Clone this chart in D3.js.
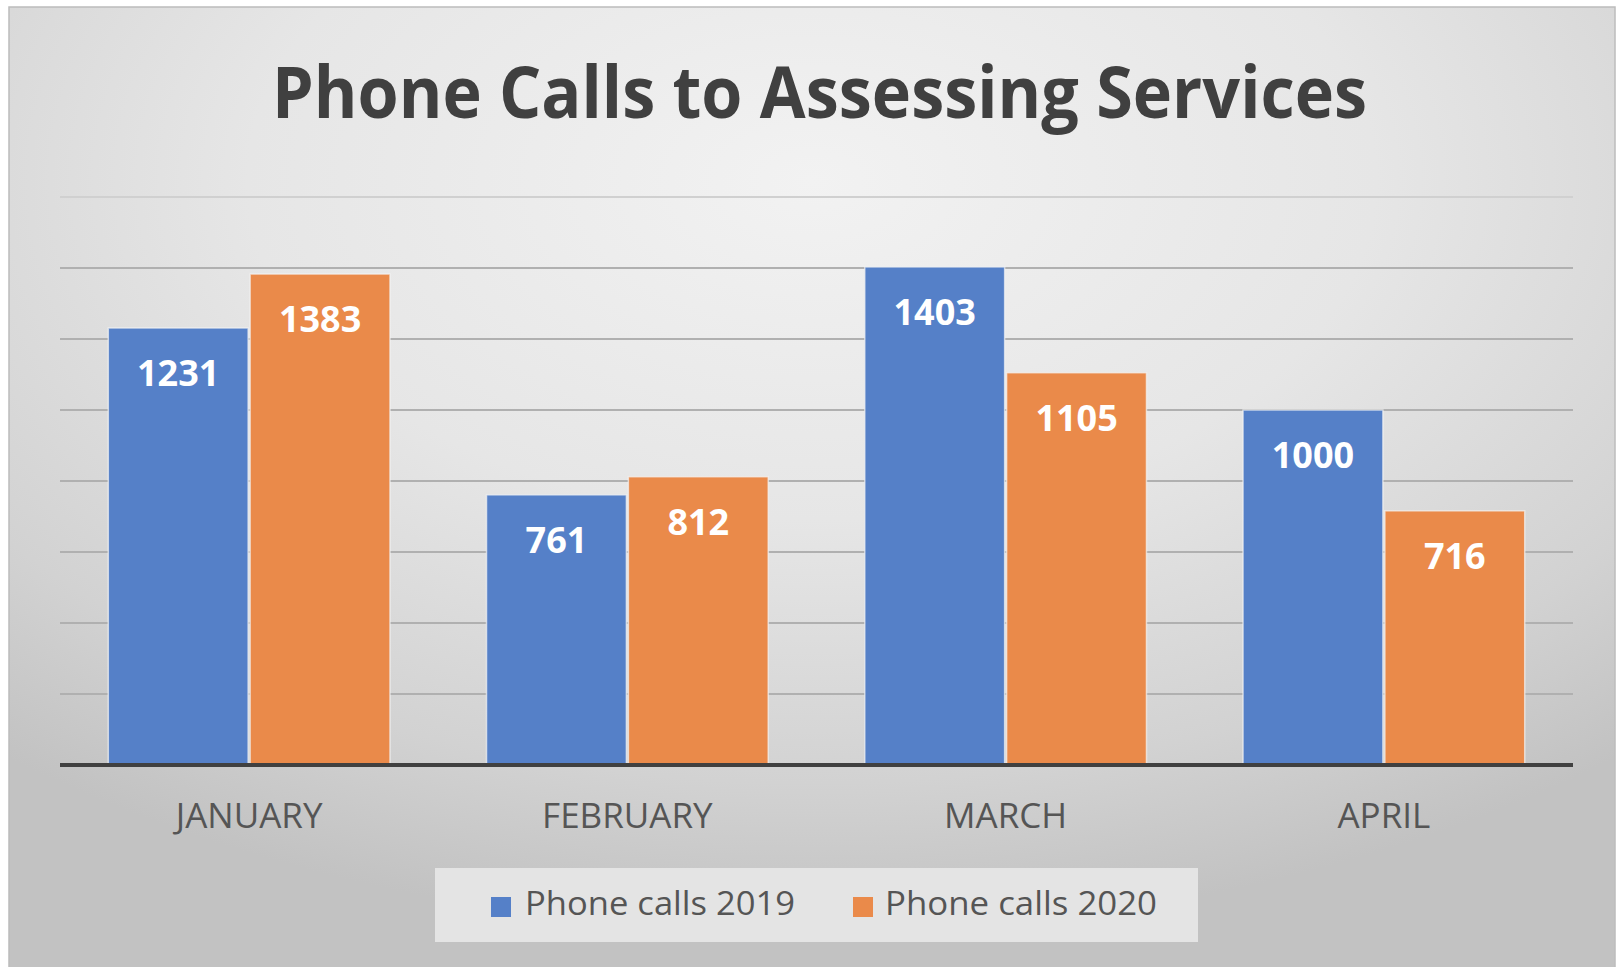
<!DOCTYPE html>
<html>
<head>
<meta charset="utf-8">
<script src="https://cdn.jsdelivr.net/npm/d3@7"></script>
<style>
  html, body { margin: 0; padding: 0; background: #ffffff; }
  svg { display: block; }
</style>
</head>
<body>
<svg id="chart" width="1623" height="967"></svg>
<script>
// Monthly phone calls, two years side by side
const months = ["JANUARY", "FEBRUARY", "MARCH", "APRIL"];
const seriesNames = ["Phone calls 2019", "Phone calls 2020"];
const calls2019 = [1231, 761, 1403, 1000];
const calls2020 = [1383, 812, 1105, 716];
const gridTicks = [0, 200, 400, 600, 800, 1000, 1200, 1400, 1600];
const titleText = "Phone Calls to Assessing Services";

const colors = ["#5580C8", "#EA8A4A"];
const seriesValues = [calls2019, calls2020];

const svg = d3.select("#chart");
const W = 1623, H = 967;

// Panel background with a soft radial shading
const defs = svg.append("defs");
const grad = defs.append("radialGradient")
  .attr("id", "panelShade")
  .attr("cx", 0.5).attr("cy", 0.18).attr("r", 0.78);
grad.append("stop").attr("offset", 0).attr("stop-color", "#f2f2f2");
grad.append("stop").attr("offset", 0.45).attr("stop-color", "#e6e6e6");
grad.append("stop").attr("offset", 0.8).attr("stop-color", "#d2d2d2");
grad.append("stop").attr("offset", 1).attr("stop-color", "#c2c2c2");

svg.append("rect")
  .attr("x", 9).attr("y", 7)
  .attr("width", 1606).attr("height", 965)
  .attr("fill", "url(#panelShade)")
  .attr("stroke", "#bcbcbc").attr("stroke-width", 1.5);

// Scales
const plotLeft = 60, plotRight = 1573, plotTop = 197, plotBottom = 765;
const x0 = d3.scaleBand().domain(months).range([plotLeft, plotRight])
  .paddingInner(0.25).paddingOuter(0.125);
const x1 = d3.scaleBand().domain(d3.range(seriesNames.length)).range([0, x0.bandwidth()]).padding(0);
const y = d3.scaleLinear().domain([0, 1600]).range([plotBottom, plotTop]);

// Horizontal gridlines
svg.append("g").selectAll("line")
  .data(gridTicks.filter(t => t > 0))
  .join("line")
  .attr("x1", plotLeft).attr("x2", plotRight)
  .attr("y1", d => y(d)).attr("y2", d => y(d))
  .attr("stroke", d => d === 1600 ? "#d0d0d0" : "#b0b0b0")
  .attr("stroke-width", 2);

// Title
const title = svg.append("text")
  .attr("x", 819.5).attr("y", 118)
  .attr("text-anchor", "middle")
  .attr("font-family", "'Open Sans', sans-serif")
  .attr("font-weight", 700)
  .attr("font-size", 71)
  .attr("fill", "#404040")
  .attr("textLength", 1095)
  .attr("lengthAdjust", "spacingAndGlyphs")
  .text(titleText);

// Bars
const groups = svg.append("g").selectAll("g")
  .data(months)
  .join("g")
  .attr("transform", d => `translate(${x0(d)},0)`);

groups.selectAll("rect")
  .data((m, i) => seriesValues.map((vals, s) => ({ s, v: vals[i] })))
  .join("rect")
  .attr("x", d => x1(d.s) + 1)
  .attr("width", x1.bandwidth() - 2)
  .attr("y", d => y(d.v))
  .attr("height", d => y(0) - y(d.v))
  .attr("fill", d => colors[d.s])
  .attr("stroke", "#f4f4f4")
  .attr("stroke-opacity", 0.7)
  .attr("stroke-width", 1.5);

// Value labels inside the top of each bar
groups.selectAll("text.val")
  .data((m, i) => seriesValues.map((vals, s) => ({ s, v: vals[i] })))
  .join("text")
  .attr("class", "val")
  .attr("x", d => x1(d.s) + x1.bandwidth() / 2)
  .attr("y", d => y(d.v) + 58)
  .attr("text-anchor", "middle")
  .attr("font-family", "'Open Sans', sans-serif")
  .attr("font-weight", 700)
  .attr("font-size", 36)
  .attr("fill", "#ffffff")
  .text(d => d.v);

// Category axis
const xAxis = svg.append("g")
  .attr("transform", `translate(0,${plotBottom})`)
  .call(d3.axisBottom(x0).tickSize(0).tickPadding(0));
xAxis.select(".domain").remove();
xAxis.selectAll("text")
  .attr("dy", null)
  .attr("y", 63)
  .attr("font-family", "'Open Sans', sans-serif")
  .attr("font-size", 35)
  .attr("fill", "#555555");

svg.append("line")
  .attr("x1", plotLeft).attr("x2", plotRight)
  .attr("y1", y(0)).attr("y2", y(0))
  .attr("stroke", "#404040").attr("stroke-width", 4);

// Legend
const legend = svg.append("g");
legend.append("rect")
  .attr("x", 435).attr("y", 868)
  .attr("width", 763).attr("height", 74)
  .attr("fill", "#e4e4e4");

const legendItems = [
  { name: seriesNames[0], color: colors[0], sx: 491, tx: 525, w: 270 },
  { name: seriesNames[1], color: colors[1], sx: 853, tx: 885, w: 272 }
];
const li = legend.selectAll("g.item").data(legendItems).join("g").attr("class", "item");
li.append("rect")
  .attr("x", d => d.sx).attr("y", 897)
  .attr("width", 20).attr("height", 20)
  .attr("fill", d => d.color);
li.append("text")
  .attr("x", d => d.tx).attr("y", 915)
  .attr("font-family", "'Open Sans', sans-serif")
  .attr("font-size", 32)
  .attr("fill", "#555555")
  .attr("textLength", d => d.w)
  .attr("lengthAdjust", "spacingAndGlyphs")
  .text(d => d.name);
</script>
</body>
</html>
